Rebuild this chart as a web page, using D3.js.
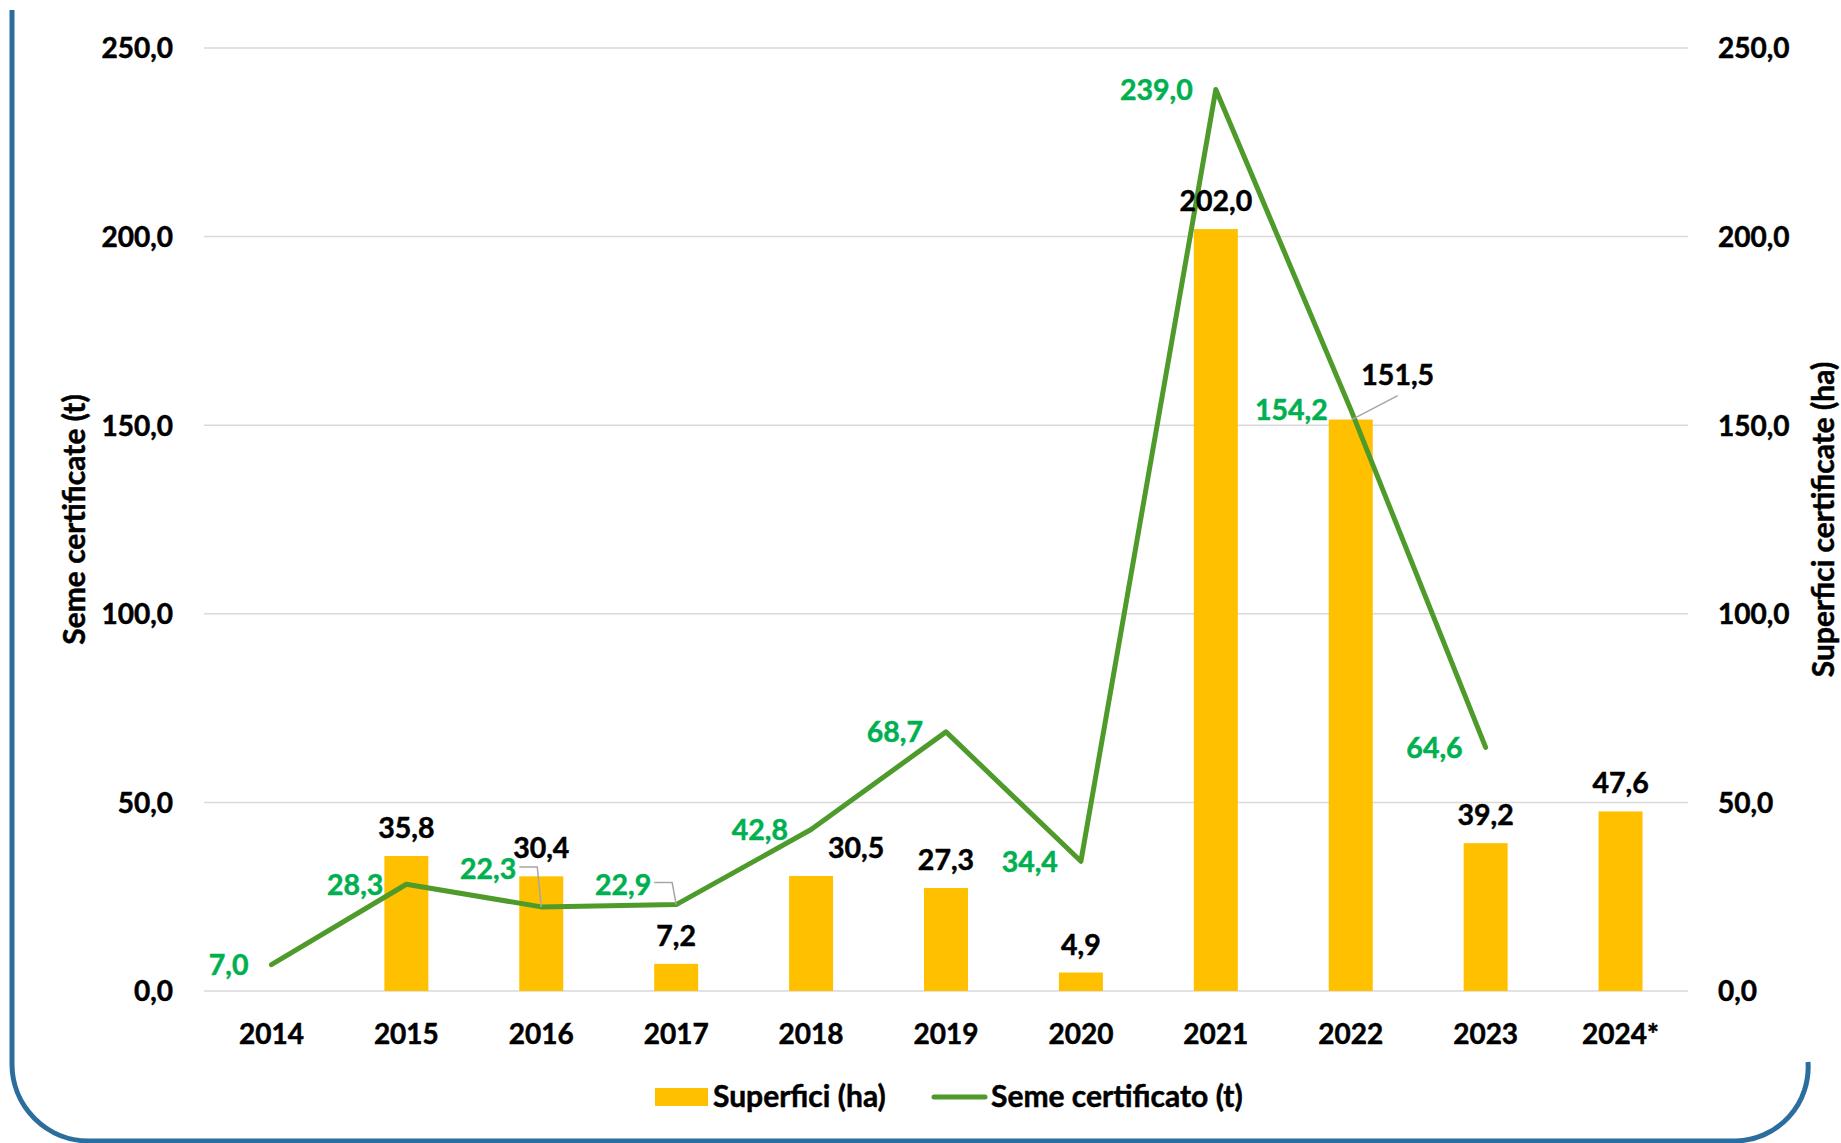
<!DOCTYPE html>
<html>
<head>
<meta charset="utf-8">
<script src="https://cdn.jsdelivr.net/npm/d3@7"></script>
<style>
  html, body { margin: 0; padding: 0; background: #fff; }
  svg text { font-family: Lato, "Open Sans", sans-serif; font-weight: 700; }
</style>
</head>
<body>
<svg id="chart" width="1841" height="1143"></svg>
<script>
// dati
var anni = ["2014","2015","2016","2017","2018","2019","2020","2021","2022","2023","2024*"];
var superfici = [null, 35.8, 30.4, 7.2, 30.5, 27.3, 4.9, 202.0, 151.5, 39.2, 47.6];   // ha
var seme = [7.0, 28.3, 22.3, 22.9, 42.8, 68.7, 34.4, 239.0, 154.2, 64.6, null];       // t
var tickValori = [0, 50, 100, 150, 200, 250];

// spostamenti etichette (come nel grafico originale)
var spostaBarre = {"2018": [45, 0], "2022": [47, -17]};
var spostaLinea = {"2016": [-2, -38], "2017": [-2, -20]};

var svg = d3.select("#chart");
var m = {left: 204, right: 1688, top: 48, bottom: 991};
var fs = 28.5;

var loc = d3.formatLocale({decimal: ",", thousands: ".", grouping: [3], currency: ["", "€"]});
var fmt = loc.format(".1f");

var x = d3.scaleBand().domain(anni).range([m.left, m.right]).paddingInner(0.674).paddingOuter(0.337);
var ySx = d3.scaleLinear().domain([0, 250]).range([m.bottom, m.top]);
var yDx = d3.scaleLinear().domain([0, 250]).range([m.bottom, m.top]);
var cx = function(a){ return x(a) + x.bandwidth() / 2; };

// rende il grassetto un po' più pieno
function pieno(sel, col){
  sel.attr("stroke", col).attr("stroke-width", 0.5).attr("paint-order", "stroke");
}

// cornice blu
svg.append("path")
  .attr("d", "M12,10 L12,1064 A77,77 0 0 0 89,1141 L1736,1141 A74,74 0 0 0 1808,1062")
  .attr("fill", "none")
  .attr("stroke", "#2b6e9e")
  .attr("stroke-width", 5);

// griglia
svg.append("g").selectAll("line").data(tickValori).join("line")
  .attr("x1", m.left).attr("x2", m.right)
  .attr("y1", function(d){ return ySx(d); }).attr("y2", function(d){ return ySx(d); })
  .attr("stroke", "#d9d9d9").attr("stroke-width", 1.5);

// assi (solo testi)
var asseSx = svg.append("g").attr("transform", "translate(" + m.left + ",1)")
  .call(d3.axisLeft(ySx).tickValues(tickValori).tickFormat(fmt).tickSize(0).tickPadding(31));
var asseDx = svg.append("g").attr("transform", "translate(" + m.right + ",1)")
  .call(d3.axisRight(yDx).tickValues(tickValori).tickFormat(fmt).tickSize(0).tickPadding(30));
var asseX = svg.append("g").attr("transform", "translate(0," + m.bottom + ")")
  .call(d3.axisBottom(x).tickSize(0).tickPadding(33));
[asseSx, asseDx, asseX].forEach(function(g){
  g.select(".domain").remove();
  var t = g.selectAll("text").attr("font-size", 28).attr("fill", "#000")
    .style("font-family", "Lato, sans-serif").style("font-weight", 700);
  pieno(t, "#000");
});

// titoli assi
pieno(svg.append("text")
  .attr("transform", "translate(74," + ((m.top + m.bottom) / 2) + ") rotate(-90)")
  .attr("text-anchor", "middle").attr("dy", "0.35em")
  .attr("font-size", 30).text("Seme certificate (t)"), "#000");
pieno(svg.append("text")
  .attr("transform", "translate(1823," + ((m.top + m.bottom) / 2) + ") rotate(-90)")
  .attr("text-anchor", "middle").attr("dy", "0.35em")
  .attr("font-size", 30).text("Superfici certificate (ha)"), "#000");

// barre
var datiBarre = anni.map(function(a, i){ return {anno: a, v: superfici[i]}; }).filter(function(d){ return d.v != null; });
svg.append("g").selectAll("rect").data(datiBarre).join("rect")
  .attr("x", function(d){ return x(d.anno); })
  .attr("width", x.bandwidth())
  .attr("y", function(d){ return yDx(d.v); })
  .attr("height", function(d){ return m.bottom - yDx(d.v); })
  .attr("fill", "#ffc000");

// linea
var datiLinea = anni.map(function(a, i){ return {anno: a, v: seme[i]}; }).filter(function(d){ return d.v != null; });
svg.append("path").datum(datiLinea)
  .attr("d", d3.line().x(function(d){ return cx(d.anno); }).y(function(d){ return ySx(d.v); }))
  .attr("fill", "none").attr("stroke", "#4e9a2a").attr("stroke-width", 5)
  .attr("stroke-linejoin", "round").attr("stroke-linecap", "round");

// linee guida etichette
var guida = svg.append("g").attr("stroke", "#a6a6a6").attr("stroke-width", 1.5).attr("fill", "none");
datiLinea.forEach(function(d){
  var s = spostaLinea[d.anno];
  if (!s) return;
  var px = cx(d.anno), py = ySx(d.v);
  var lx = px - 22 + s[0], ly = py + s[1];
  guida.append("path").attr("d", "M" + (lx + 2) + "," + (ly - 2) + " H" + (px - 4) + " L" + px + "," + py);
});
datiBarre.forEach(function(d){
  if (d.anno !== "2022") return;
  var s = spostaBarre[d.anno];
  var px = cx(d.anno), py = yDx(d.v);
  guida.append("line").attr("x1", px + 1).attr("y1", py)
    .attr("x2", px + s[0]).attr("y2", py + s[1] - 7);
});

// etichette barre
pieno(svg.append("g").selectAll("text").data(datiBarre).join("text")
  .attr("x", function(d){ var s = spostaBarre[d.anno] || [0, 0]; return cx(d.anno) + s[0]; })
  .attr("y", function(d){ var s = spostaBarre[d.anno] || [0, 0]; return yDx(d.v) - 18 + s[1]; })
  .attr("text-anchor", "middle").attr("font-size", fs).attr("fill", "#000")
  .text(function(d){ return fmt(d.v); }), "#000");

// etichette linea
pieno(svg.append("g").selectAll("text").data(datiLinea).join("text")
  .attr("x", function(d){ var s = spostaLinea[d.anno] || [0, 0]; return cx(d.anno) - 23 + s[0]; })
  .attr("y", function(d){ var s = spostaLinea[d.anno] || [0, 0]; return ySx(d.v) + s[1]; })
  .attr("dy", "0.36em")
  .attr("text-anchor", "end").attr("font-size", fs).attr("fill", "#00b050")
  .text(function(d){ return fmt(d.v); }), "#00b050");

// legenda
var leg = svg.append("g");
leg.append("rect").attr("x", 655).attr("y", 1088).attr("width", 53).attr("height", 18).attr("fill", "#ffc000");
pieno(leg.append("text").attr("x", 713).attr("y", 1107).attr("font-size", 30).text("Superfici (ha)"), "#000");
leg.append("line").attr("x1", 934).attr("x2", 985).attr("y1", 1097).attr("y2", 1097)
  .attr("stroke", "#4e9a2a").attr("stroke-width", 5).attr("stroke-linecap", "round");
pieno(leg.append("text").attr("x", 991).attr("y", 1107).attr("font-size", 30).text("Seme certificato (t)"), "#000");
</script>
</body>
</html>
